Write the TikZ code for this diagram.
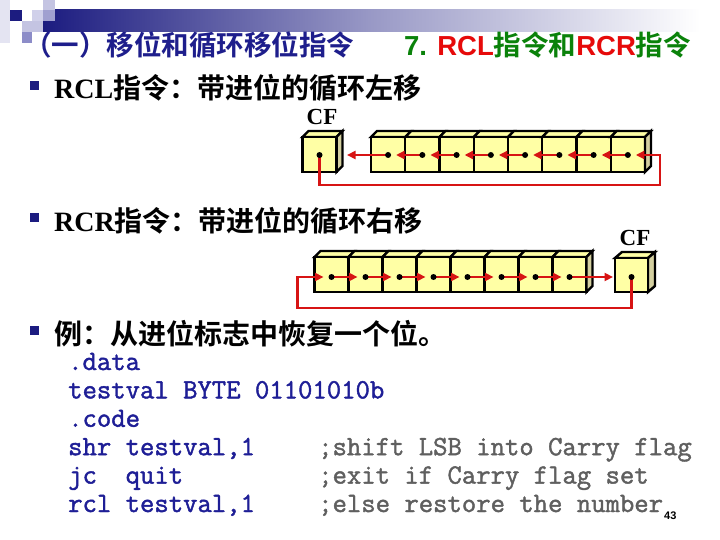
\documentclass[tikz,border=0pt]{standalone}
\usepackage{fontspec}
\setmainfont{Liberation Serif}
\newfontfamily\sansf{Liberation Sans}
\newfontfamily\codef{Latin Modern Mono}[FakeBold=1.5]
\newfontfamily\cjk{Noto Sans CJK SC}[BoldFont={Noto Sans CJK SC Bold}]
\usetikzlibrary{arrows.meta,calc}
\definecolor{navy}{RGB}{28,28,128}
\definecolor{titlenavy}{RGB}{30,30,140}
\definecolor{tgreen}{RGB}{10,130,10}
\definecolor{tred}{RGB}{230,10,10}
\definecolor{arrowred}{RGB}{215,20,20}
\definecolor{cubefill}{RGB}{255,255,165}
\definecolor{cubeside}{RGB}{212,208,160}
\definecolor{codeblue}{RGB}{30,30,150}
\definecolor{commentgray}{RGB}{95,95,95}
\definecolor{lav1}{RGB}{228,228,242}
\definecolor{lav2}{RGB}{208,208,234}
\definecolor{lav3}{RGB}{196,196,226}
\definecolor{lav4}{RGB}{160,160,208}
\definecolor{lav5}{RGB}{140,140,200}
\begin{document}
\begin{tikzpicture}[x=1pt,y=-1pt,
  cube/.style={draw=black,line width=2.4pt,fill=cubefill,line join=miter},
  cubesidestyle/.style={draw=black,line width=2.4pt,fill=cubeside},
  redpath/.style={draw=arrowred,line width=2.6pt,-{Triangle[length=8.5pt,width=8pt]}},
  bulletbox/.style={fill=navy,minimum size=9pt,inner sep=0pt,outer sep=0pt},
  body/.style={anchor=base west,inner sep=0pt,text=black,font=\fontsize{28pt}{32pt}\selectfont},
  ttl/.style={anchor=base west,inner sep=0pt,font=\fontsize{27.5pt}{30pt}\selectfont\bfseries},
  code/.style={anchor=base west,inner sep=0pt,text=codeblue,font=\fontsize{27.9pt}{30pt}\selectfont\codef},
  comment/.style={anchor=base west,inner sep=0pt,text=commentgray,font=\fontsize{27.9pt}{30pt}\selectfont\codef},
  cflabel/.style={inner sep=0pt,font=\fontsize{23pt}{25pt}\selectfont\bfseries}
]
\useasboundingbox (0,0) rectangle (720,540);
\fill[white] (0,0) rectangle (720,540);

% ---- header decoration ----
\shade[left color=navy,right color=white,middle color=navy!45!white] (43,10) rectangle (700,32);
\fill[white] (700,10) rectangle (720,32);
\fill[lav1] (0,0) rectangle (10,43);
\fill[navy] (10,10) rectangle (22,21);
\fill[lav2] (32,10) rectangle (43,21);
\fill[lav3] (43,0) rectangle (55,10);
\fill[lav4] (43,10) rectangle (55,21);
\fill[lav3] (22,21) rectangle (43,32);
\fill[lav5] (22,32) rectangle (32,43);

% ---- title ----
\node[ttl,text=titlenavy] (title1) at (24,55.5) {\cjk （一）移位和循环移位指令};
\node[ttl] (title2) at (404,55.5) {\textcolor{tgreen}{\sansf 7. }\textcolor{tred}{\sansf RCL}\textcolor{tgreen}{\cjk 指令和}\textcolor{tred}{\sansf RCR}\textcolor{tgreen}{\cjk 指令}};

% ---- bullets and text ----
\node[bulletbox] (b1) at (34.5,85.5) {};
\node[body] (t1) at (54,99) {\bfseries RCL\cjk 指令：带进位的循环左移};
\node[bulletbox] (b2) at (34.5,217.5) {};
\node[body] (t2) at (54,231) {\bfseries RCR\cjk 指令：带进位的循环右移};
\node[bulletbox] (b3) at (34.5,330.5) {};
\node[body] (t3) at (54,344) {\bfseries\cjk 例：从进位标志中恢复一个位。};

% ================= RCL diagram =================
\node[cflabel] (cfl) at (322,117) {CF};
% CF cube
\draw[cube] (302.5,137) -- (308.5,131) -- (342.5,131) -- (336.5,137) -- cycle;
\draw[cubesidestyle] (336.5,137) -- (342.5,131) -- (342.5,166) -- (336.5,172) -- cycle;
\draw[cube] (302.5,137) rectangle (336.5,172);
% register cells
\foreach \i in {0,...,7}{
  \pgfmathsetmacro\xa{371+34.25*\i}
  \pgfmathsetmacro\xb{371+34.25*(\i+1)}
  \draw[cube] (\xa,137) -- (\xa+6,131) -- (\xb+6,131) -- (\xb,137) -- cycle;
  \draw[cube] (\xa,137) rectangle (\xb,172);
}
\draw[cubesidestyle] (645,137) -- (651,131) -- (651,166) -- (645,172) -- cycle;
% dot positions
\coordinate (cfdl) at (319.5,155);
\foreach \i in {0,...,7}{
  \coordinate (l\i) at (388.1+34.25*\i,155);
}
\coordinate (lcornerA) at (319.5,185);
\coordinate (lcornerB) at (660,185);
\coordinate (lcornerC) at (660,155);
% arrows
\foreach \i [evaluate=\i as \j using int(\i-1)] in {1,...,7}{
  \draw[redpath,shorten >=8pt] (l\i) -- (l\j);
}
\draw[redpath,shorten >=27.5pt] (l0) -- (cfdl);
\draw[redpath,shorten >=8pt] (cfdl) -- (lcornerA) -- (lcornerB) -- (lcornerC) -- (l7);
% dots
\fill (cfdl) circle (3pt);
\foreach \i in {0,...,7}{ \fill (l\i) circle (3pt); }

% ================= RCR diagram =================
\node[cflabel] (cfr) at (635,238) {CF};
\foreach \i in {0,...,7}{
  \pgfmathsetmacro\xa{314.5+34*\i}
  \pgfmathsetmacro\xb{314.5+34*(\i+1)}
  \draw[cube] (\xa,257) -- (\xa+6,251) -- (\xb+6,251) -- (\xb,257) -- cycle;
  \draw[cube] (\xa,257) rectangle (\xb,292);
}
\draw[cubesidestyle] (586.5,257) -- (592.5,251) -- (592.5,286) -- (586.5,292) -- cycle;
% CF cube
\draw[cube] (615,258) -- (622,252) -- (655,252) -- (648,258) -- cycle;
\draw[cubesidestyle] (648,258) -- (655,252) -- (655,286) -- (648,292) -- cycle;
\draw[cube] (615,258) rectangle (648,292);
% dot positions
\coordinate (cfdr) at (631.5,277);
\foreach \i in {0,...,7}{
  \coordinate (r\i) at (331.5+34*\i,277);
}
\coordinate (rcornerA) at (631.5,308);
\coordinate (rcornerB) at (297.5,308);
\coordinate (rcornerC) at (297.5,277);
\foreach \i [evaluate=\i as \j using int(\i+1)] in {0,...,6}{
  \draw[redpath,shorten >=8pt] (r\i) -- (r\j);
}
\draw[redpath,shorten >=18.5pt] (r7) -- (cfdr);
\draw[redpath,shorten >=8pt] (cfdr) -- (rcornerA) -- (rcornerB) -- (rcornerC) -- (r0);
\fill (cfdr) circle (3pt);
\foreach \i in {0,...,7}{ \fill (r\i) circle (3pt); }

% ================= code =================
\node[code] (c1) at (68,370) {.data};
\node[code] (c2) at (68,398.4) {testval BYTE 01101010b};
\node[code] (c3) at (68,426.8) {.code};
\node[code] (c4) at (68,455.2) {shr testval,1};
\node[code] (c5) at (68,483.6) {jc\ \ quit};
\node[code] (c6) at (68,512) {rcl testval,1};
\node[comment] (m4) at (318,455.2) {;shift LSB into Carry flag};
\node[comment] (m5) at (318,483.6) {;exit if Carry flag set};
\node[comment] (m6) at (318,512) {;else restore the number};
\node[anchor=base west,inner sep=0pt,font=\fontsize{11pt}{12pt}\selectfont\sansf\bfseries] (pg) at (664,519) {43};
\end{tikzpicture}
\end{document}
